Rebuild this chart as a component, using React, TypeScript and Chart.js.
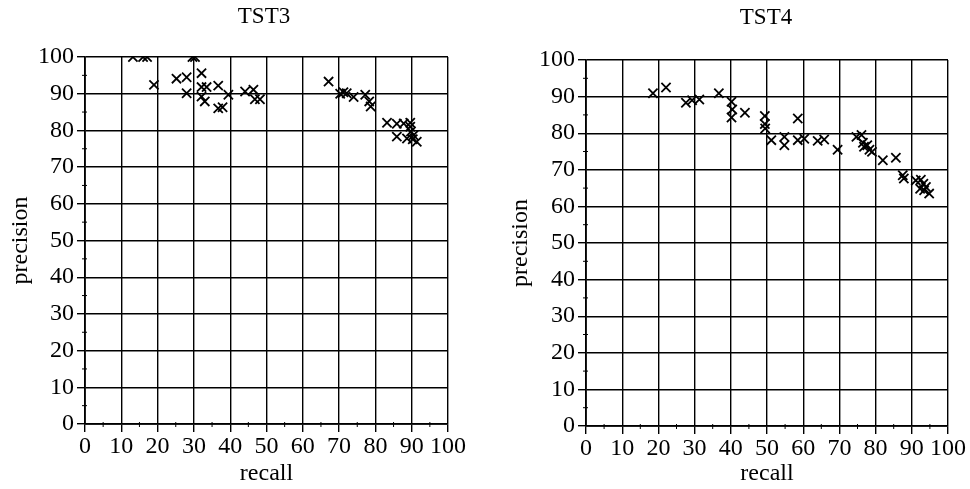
import React, { useEffect, useRef } from "react";
import { Chart, registerables } from "chart.js";

Chart.register(...registerables);

// TST3 data (recall, precision)
const tst3Recall = [13.2, 16.0, 17.1, 19.0, 25.2, 28.0, 28.0, 29.6, 30.3, 32.1, 32.1, 33.5, 32.1, 33.0, 36.7, 36.7, 37.9, 39.5, 44.1, 46.4, 46.8, 48.2, 67.1, 70.3, 71.2, 72.1, 74.0, 77.2, 78.3, 78.7, 83.2, 85.9, 85.9, 87.8, 89.6, 89.6, 89.8, 88.7, 90.5, 91.4, 90.3];
const tst3Precision = [100, 100, 100, 92.4, 94.1, 94.5, 90.1, 100, 100, 95.6, 91.8, 91.8, 89.2, 87.9, 92.2, 86.0, 86.3, 89.7, 90.6, 91.1, 88.5, 88.5, 93.3, 90.0, 90.4, 90.1, 89.1, 89.7, 87.9, 86.5, 82.1, 81.8, 78.3, 81.9, 82.1, 81.0, 79.7, 77.8, 78.7, 76.9, 77.6];

// TST4 data (recall, precision)
const tst4Recall = [18.5, 22.1, 27.6, 29.3, 31.3, 36.7, 40.2, 40.4, 40.2, 43.9, 49.4, 49.4, 49.5, 51.2, 54.8, 54.8, 58.5, 58.5, 60.3, 64.0, 65.8, 69.5, 74.7, 76.1, 76.5, 76.8, 77.7, 78.3, 79.0, 82.0, 85.6, 87.5, 87.8, 91.1, 92.5, 92.3, 93.2, 93.4, 93.9, 94.8];
const tst4Precision = [90.9, 92.5, 88.3, 89.0, 89.2, 90.9, 88.6, 86.5, 84.3, 85.6, 84.7, 82.5, 81.3, 78.1, 79.0, 76.7, 84.0, 78.1, 78.5, 77.9, 78.3, 75.5, 79.0, 79.5, 77.4, 76.3, 76.7, 75.5, 74.9, 72.6, 73.3, 68.5, 67.6, 67.1, 67.3, 64.8, 66.2, 64.4, 65.3, 63.5];

const axisMin = 0;
const axisMax = 100;
const majorStep = 10;
const minorStep = 5;

const xTitle = "recall";
const yTitle = "precision";

const FONT = "'Liberation Serif', 'Times New Roman', serif";

type Layout = {
  yWidth: number;
  xHeight: number;
  padTop: number;
  padRight: number;
  yTitlePad: number;
};

const minorTicks = {
  id: "minorTicks",
  afterDraw(chart: any) {
    const { ctx, scales } = chart;
    const x = scales.x;
    const y = scales.y;
    ctx.save();
    ctx.strokeStyle = "#000";
    ctx.lineWidth = 1;
    ctx.beginPath();
    for (let v = axisMin + minorStep; v < axisMax; v += majorStep) {
      const px = x.getPixelForValue(v);
      ctx.moveTo(px, y.bottom - 2);
      ctx.lineTo(px, y.bottom + 3);
      const py = y.getPixelForValue(v);
      ctx.moveTo(x.left - 3, py);
      ctx.lineTo(x.left + 2, py);
    }
    ctx.stroke();
    ctx.restore();
  },
};

function Scatter({ xs, ys, layout }: { xs: number[]; ys: number[]; layout: Layout }) {
  const ref = useRef<HTMLCanvasElement | null>(null);
  useEffect(() => {
    if (!ref.current) return;
    const data = xs.map((x, i) => ({ x, y: ys[i] }));
    const tickFont = { family: FONT, size: 24 };
    const chart = new Chart(ref.current, {
      type: "scatter",
      data: {
        datasets: [
          {
            data,
            pointStyle: "crossRot",
            pointRadius: 6.5,
            pointHoverRadius: 6.5,
            borderColor: "#000",
            backgroundColor: "#000",
            pointBorderWidth: 1.8,
            borderWidth: 1.8,
          },
        ],
      },
      options: {
        animation: false,
        responsive: true,
        maintainAspectRatio: false,
        layout: { padding: { top: layout.padTop, right: layout.padRight, left: 0, bottom: 0 } },
        plugins: { legend: { display: false }, tooltip: { enabled: false }, title: { display: false } },
        scales: {
          x: {
            type: "linear",
            min: axisMin,
            max: axisMax,
            afterFit: (s: any) => {
              s.height = layout.xHeight;
            },
            ticks: {
              stepSize: majorStep,
              color: "#000",
              font: tickFont,
              padding: 0,
              maxRotation: 0,
              autoSkip: false,
            },
            grid: { color: "#000", lineWidth: 1.4, tickLength: 8, tickColor: "#000", tickWidth: 1.4 },
            border: { color: "#000", width: 1.8 },
            title: {
              display: true,
              text: xTitle,
              color: "#000",
              font: { family: FONT, size: 24 },
              padding: { top: 0, bottom: 1 },
            },
          },
          y: {
            type: "linear",
            min: axisMin,
            max: axisMax,
            afterFit: (s: any) => {
              s.width = layout.yWidth;
            },
            ticks: {
              stepSize: majorStep,
              color: "#000",
              font: tickFont,
              padding: 3,
              autoSkip: false,
            },
            grid: { color: "#000", lineWidth: 1.4, tickLength: 8, tickColor: "#000", tickWidth: 1.4 },
            border: { color: "#000", width: 1.8 },
            title: {
              display: true,
              text: yTitle,
              color: "#000",
              font: { family: FONT, size: 24 },
              padding: { top: layout.yTitlePad, bottom: 0 },
            },
          },
        },
      },
      plugins: [minorTicks],
    } as any);
    return () => chart.destroy();
  }, [xs, ys, layout]);
  return <canvas ref={ref} />;
}

const leftLayout: Layout = { yWidth: 85, xHeight: 65, padTop: 57, padRight: 37, yTitlePad: 6 };
const rightLayout: Layout = { yWidth: 101, xHeight: 63, padTop: 60, padRight: 22, yTitlePad: 21 };

const titleStyle = (cx: number, top: number): React.CSSProperties => ({
  position: "absolute",
  left: cx - 100,
  width: 200,
  top,
  textAlign: "center",
  fontFamily: FONT,
  fontSize: 23,
  lineHeight: "23px",
  color: "#000",
});

export default function App() {
  return (
    <div
      style={{
        position: "absolute",
        left: 0,
        top: 0,
        width: 970,
        height: 489,
        background: "#fff",
        overflow: "hidden",
      }}
    >
      <div style={{ position: "absolute", left: 0, top: 0, width: 485, height: 489 }}>
        <Scatter xs={tst3Recall} ys={tst3Precision} layout={leftLayout} />
      </div>
      <div style={{ position: "absolute", left: 485, top: 0, width: 485, height: 489 }}>
        <Scatter xs={tst4Recall} ys={tst4Precision} layout={rightLayout} />
      </div>
      <div style={titleStyle(264, 4)}>TST3</div>
      <div style={titleStyle(766, 5)}>TST4</div>
    </div>
  );
}
